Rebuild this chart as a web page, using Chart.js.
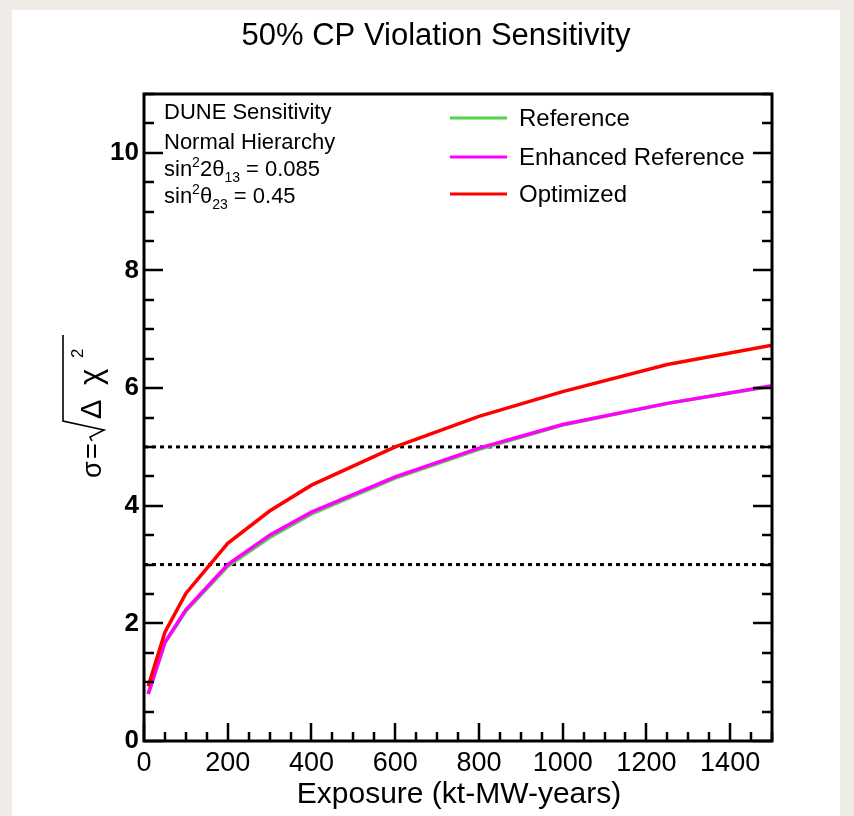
<!DOCTYPE html>
<html>
<head>
<meta charset="utf-8">
<script src="https://cdn.jsdelivr.net/npm/chart.js@4.4.1/dist/chart.umd.min.js"></script>
<style>
  html, body { margin: 0; padding: 0; background: #efece7; }
  canvas { display: block; }
</style>
</head>
<body>
<canvas id="chart" width="854" height="816"></canvas>
<script>
// exposure in kt-MW-years
const exposure = [10, 50, 100, 200, 300, 400, 600, 800, 1000, 1250, 1500];
// sigma = sqrt(delta chi^2) for each configuration
const reference = [0.80, 1.67, 2.21, 2.97, 3.46, 3.86, 4.47, 4.96, 5.37, 5.74, 6.03];
const enhanced = [0.80, 1.68, 2.23, 3.00, 3.50, 3.89, 4.49, 4.98, 5.38, 5.74, 6.04];
const optimized = [0.93, 1.85, 2.51, 3.36, 3.91, 4.35, 5.00, 5.52, 5.94, 6.40, 6.73];
const thresholds = [3, 5];

const seriesNames = ["Reference", "Enhanced Reference", "Optimized"];
const seriesColors = ["#55d24a", "#ff00ff", "#ff0000"];

const xMajor = [0, 200, 400, 600, 800, 1000, 1200, 1400];
const yMajor = [0, 2, 4, 6, 8, 10];

const FONT = '"Liberation Sans", Arial, Helvetica, sans-serif';

const toPoints = (vals) => exposure.map((x, i) => ({ x, y: vals[i] }));

const curves = [reference, enhanced, optimized].map((vals, i) => ({
  label: seriesNames[i],
  data: toPoints(vals),
  borderColor: seriesColors[i],
  borderWidth: 3.5,
  pointRadius: 0,
  tension: 0,
  order: 3 - i,
}));

const dashed = thresholds.map((t) => ({
  label: "",
  data: [{ x: 0, y: t }, { x: 1500, y: t }],
  borderColor: "#000",
  borderWidth: 3,
  borderDash: [4, 4],
  pointRadius: 0,
  order: 5,
  isLine: true,
}));

// draw "sin^a b_c = d" style text pieces
function drawRich(ctx, parts, x, y) {
  parts.forEach(([txt, kind]) => {
    let size = 22, dy = 0;
    if (kind === "sup") { size = 14; dy = -9; }
    if (kind === "sub") { size = 14; dy = 6; }
    ctx.font = size + "px " + FONT;
    ctx.fillText(txt, x, y + dy);
    x += ctx.measureText(txt).width;
  });
}

const decorations = {
  id: "decorations",
  beforeDraw(chart) {
    const { ctx, width, height } = chart;
    ctx.save();
    ctx.fillStyle = "#efece7";
    ctx.fillRect(0, 0, width, height);
    ctx.fillStyle = "#fff";
    ctx.fillRect(12, 10, 828, height - 10);
    ctx.restore();
  },
  afterDraw(chart) {
    const { ctx, chartArea: a, scales: { x, y } } = chart;
    ctx.save();
    ctx.strokeStyle = "#000";
    ctx.fillStyle = "#000";

    // frame
    ctx.lineWidth = 3;
    ctx.strokeRect(a.left, a.top, a.right - a.left, a.bottom - a.top);

    // inside ticks
    ctx.lineWidth = 2.5;
    ctx.beginPath();
    y.ticks.forEach((t) => {
      const py = Math.round(y.getPixelForValue(t.value));
      const len = yMajor.includes(t.value) ? 19 : 10;
      ctx.moveTo(a.left, py); ctx.lineTo(a.left + len, py);
      ctx.moveTo(a.right, py); ctx.lineTo(a.right - len, py);
    });
    x.ticks.forEach((t) => {
      const px = Math.round(x.getPixelForValue(t.value));
      const len = xMajor.includes(t.value) ? 18 : 9;
      ctx.moveTo(px, a.bottom); ctx.lineTo(px, a.bottom - len);
    });
    ctx.stroke();

    // title
    ctx.textAlign = "center";
    ctx.textBaseline = "alphabetic";
    ctx.font = "31px " + FONT;
    ctx.fillText("50% CP Violation Sensitivity", 436, 45);

    // x title
    ctx.font = "30px " + FONT;
    ctx.fillText("Exposure (kt-MW-years)", 459, 803);

    // info box
    ctx.textAlign = "left";
    ctx.font = "22px " + FONT;
    ctx.fillText("DUNE Sensitivity", 164, 119);
    ctx.fillText("Normal Hierarchy", 164, 149);
    drawRich(ctx, [["sin"], ["2", "sup"], ["2θ"], ["13", "sub"], [" = 0.085"]], 164, 176);
    drawRich(ctx, [["sin"], ["2", "sup"], ["θ"], ["23", "sub"], [" = 0.45"]], 164, 203);

    // legend
    const legendY = [118, 157, 194];
    chart.data.datasets.filter((d) => !d.isLine).forEach((d, i) => {
      ctx.strokeStyle = d.borderColor;
      ctx.lineWidth = 3;
      ctx.beginPath();
      ctx.moveTo(450, legendY[i]);
      ctx.lineTo(507, legendY[i]);
      ctx.stroke();
      ctx.fillStyle = "#000";
      ctx.font = "24px " + FONT;
      ctx.textBaseline = "middle";
      ctx.fillText(d.label, 519, legendY[i] + 1);
    });

    // y title: sigma = sqrt(delta chi^2), rotated
    ctx.translate(101, 406);
    ctx.rotate(-Math.PI / 2);
    ctx.fillStyle = "#000";
    ctx.strokeStyle = "#000";
    ctx.textBaseline = "alphabetic";
    ctx.font = "27px " + FONT;
    ctx.fillText("σ", -72, 0);
    ctx.fillText("=", -53, 0);
    ctx.lineWidth = 1.6;
    ctx.beginPath();
    ctx.moveTo(-35, -9);
    ctx.lineTo(-31, -11);
    ctx.lineTo(-24, 3);
    ctx.lineTo(-15, -38);
    ctx.lineTo(71, -38);
    ctx.stroke();
    ctx.font = "29px " + FONT;
    ctx.fillText("Δ", -13, 0);
    ctx.font = "31px " + FONT;
    ctx.fillText("χ", 21, 0);
    ctx.font = "17px " + FONT;
    ctx.fillText("2", 48, -18);
    ctx.restore();
  },
};

new Chart(document.getElementById("chart"), {
  type: "line",
  data: { datasets: [...curves, ...dashed] },
  options: {
    responsive: false,
    animation: false,
    layout: { padding: { left: 84, right: 82, top: 94, bottom: 25 } },
    plugins: { legend: { display: false }, tooltip: { enabled: false } },
    scales: {
      x: {
        type: "linear",
        min: 0,
        max: 1500,
        grid: { display: false, drawTicks: false },
        border: { display: false },
        ticks: {
          stepSize: 50,
          autoSkip: false,
          maxRotation: 0,
          padding: 6,
          color: "#000",
          font: { family: FONT, size: 27 },
          callback: (v) => (xMajor.includes(v) ? String(v) : ""),
        },
        afterFit: (s) => { s.height = 50; },
      },
      y: {
        min: 0,
        max: 11,
        grid: { display: false, drawTicks: false },
        border: { display: false },
        ticks: {
          stepSize: 0.5,
          autoSkip: false,
          padding: 5,
          color: "#000",
          font: { family: FONT, size: 26, weight: "bold" },
          callback: (v) => (yMajor.includes(v) ? String(v) : ""),
        },
        afterFit: (s) => { s.width = 60; },
      },
    },
  },
  plugins: [decorations],
});
</script>
</body>
</html>
